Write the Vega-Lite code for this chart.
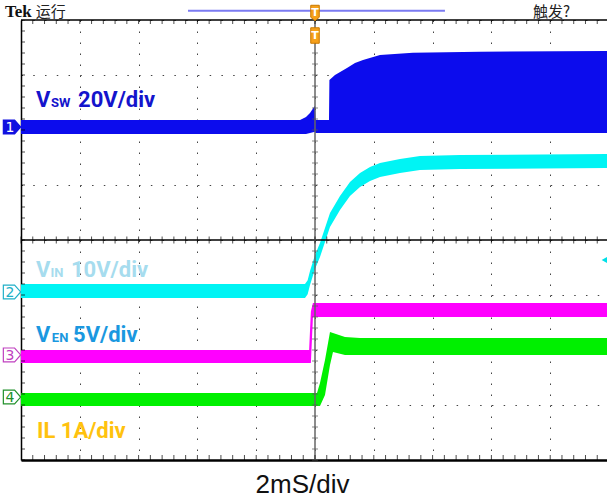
{
  "$schema": "https://vega.github.io/schema/vega-lite/v6.json",
  "autosize": {"type": "none"},
  "padding": {"left": 21, "top": 20, "right": 0, "bottom": 37},
  "width": 588,
  "height": 440,
  "background": "white",
  "config": {"view": {"stroke": null}},
  "datasets": {
    "traces": [
      {"ch": "1", "t": -10, "lo": 1.927, "hi": 2.182},
      {"ch": "1", "t": -0.51, "lo": 1.927, "hi": 2.182},
      {"ch": "1", "t": -0.306, "lo": 1.927, "hi": 2.236},
      {"ch": "1", "t": -0.17, "lo": 1.945, "hi": 2.309},
      {"ch": "1", "t": -0.034, "lo": 1.964, "hi": 2.418},
      {"ch": "1", "t": 0, "lo": 1.964, "hi": 2.436},
      {"ch": "1", "t": 0.02, "lo": 1.945, "hi": 2.182},
      {"ch": "1", "t": 0.476, "lo": 1.945, "hi": 2.182},
      {"ch": "1", "t": 0.49, "lo": 1.945, "hi": 2.909},
      {"ch": "1", "t": 0.68, "lo": 1.945, "hi": 3.0},
      {"ch": "1", "t": 1.088, "lo": 1.945, "hi": 3.127},
      {"ch": "1", "t": 1.36, "lo": 1.945, "hi": 3.218},
      {"ch": "1", "t": 1.633, "lo": 1.945, "hi": 3.273},
      {"ch": "1", "t": 2.21, "lo": 1.945, "hi": 3.364},
      {"ch": "1", "t": 3.33, "lo": 1.945, "hi": 3.405},
      {"ch": "1", "t": 5.61, "lo": 1.945, "hi": 3.424},
      {"ch": "1", "t": 10, "lo": 1.945, "hi": 3.436},
      {"ch": "2", "t": -10, "lo": -1.054, "hi": -0.8},
      {"ch": "2", "t": -0.34, "lo": -1.054, "hi": -0.8},
      {"ch": "2", "t": -0.25, "lo": -0.987, "hi": -0.733},
      {"ch": "2", "t": -0.17, "lo": -0.818, "hi": -0.564},
      {"ch": "2", "t": 0, "lo": -0.527, "hi": -0.273},
      {"ch": "2", "t": 0.17, "lo": -0.309, "hi": -0.055},
      {"ch": "2", "t": 0.34, "lo": -0.036, "hi": 0.218},
      {"ch": "2", "t": 0.51, "lo": 0.237, "hi": 0.491},
      {"ch": "2", "t": 0.85, "lo": 0.546, "hi": 0.8},
      {"ch": "2", "t": 1.19, "lo": 0.8, "hi": 1.054},
      {"ch": "2", "t": 1.531, "lo": 0.964, "hi": 1.218},
      {"ch": "2", "t": 1.871, "lo": 1.073, "hi": 1.327},
      {"ch": "2", "t": 2.211, "lo": 1.146, "hi": 1.4},
      {"ch": "2", "t": 2.891, "lo": 1.218, "hi": 1.472},
      {"ch": "2", "t": 3.571, "lo": 1.273, "hi": 1.527},
      {"ch": "2", "t": 4.932, "lo": 1.291, "hi": 1.545},
      {"ch": "2", "t": 10, "lo": 1.309, "hi": 1.563},
      {"ch": "3", "t": -10, "lo": -2.236, "hi": -2.0},
      {"ch": "3", "t": -0.2, "lo": -2.236, "hi": -2.0},
      {"ch": "3", "t": -0.14, "lo": -2.236, "hi": -1.3},
      {"ch": "3", "t": -0.07, "lo": -1.4, "hi": -1.145},
      {"ch": "3", "t": 10, "lo": -1.4, "hi": -1.145},
      {"ch": "4", "t": -10, "lo": -3.018, "hi": -2.782},
      {"ch": "4", "t": 0.068, "lo": -3.018, "hi": -2.782},
      {"ch": "4", "t": 0.17, "lo": -3.018, "hi": -2.6},
      {"ch": "4", "t": 0.34, "lo": -2.818, "hi": -2.182},
      {"ch": "4", "t": 0.51, "lo": -2.273, "hi": -1.673},
      {"ch": "4", "t": 0.612, "lo": -2.036, "hi": -1.691},
      {"ch": "4", "t": 1.02, "lo": -2.091, "hi": -1.764},
      {"ch": "4", "t": 1.531, "lo": -2.091, "hi": -1.782},
      {"ch": "4", "t": 10, "lo": -2.091, "hi": -1.782}
    ],
    "xt": [
      {"t": -10}, {"t": -9.6}, {"t": -9.2}, {"t": -8.8}, {"t": -8.4}, {"t": -8}, {"t": -7.6}, {"t": -7.2}, {"t": -6.8}, {"t": -6.4},
      {"t": -6}, {"t": -5.6}, {"t": -5.2}, {"t": -4.8}, {"t": -4.4}, {"t": -4}, {"t": -3.6}, {"t": -3.2}, {"t": -2.8}, {"t": -2.4},
      {"t": -2}, {"t": -1.6}, {"t": -1.2}, {"t": -0.8}, {"t": -0.4}, {"t": 0}, {"t": 0.4}, {"t": 0.8}, {"t": 1.2}, {"t": 1.6},
      {"t": 2}, {"t": 2.4}, {"t": 2.8}, {"t": 3.2}, {"t": 3.6}, {"t": 4}, {"t": 4.4}, {"t": 4.8}, {"t": 5.2}, {"t": 5.6},
      {"t": 6}, {"t": 6.4}, {"t": 6.8}, {"t": 7.2}, {"t": 7.6}, {"t": 8}, {"t": 8.4}, {"t": 8.8}, {"t": 9.2}, {"t": 9.6}, {"t": 10}
    ],
    "yt": [
      {"v": -4}, {"v": -3.8}, {"v": -3.6}, {"v": -3.4}, {"v": -3.2}, {"v": -3}, {"v": -2.8}, {"v": -2.6}, {"v": -2.4}, {"v": -2.2},
      {"v": -2}, {"v": -1.8}, {"v": -1.6}, {"v": -1.4}, {"v": -1.2}, {"v": -1}, {"v": -0.8}, {"v": -0.6}, {"v": -0.4}, {"v": -0.2},
      {"v": 0}, {"v": 0.2}, {"v": 0.4}, {"v": 0.6}, {"v": 0.8}, {"v": 1}, {"v": 1.2}, {"v": 1.4}, {"v": 1.6}, {"v": 1.8},
      {"v": 2}, {"v": 2.2}, {"v": 2.4}, {"v": 2.6}, {"v": 2.8}, {"v": 3}, {"v": 3.2}, {"v": 3.4}, {"v": 3.6}, {"v": 3.8}, {"v": 4}
    ],
    "bigLabels": [
      {"k": "sw", "text": "V", "t": -9.49, "v": 2.418},
      {"k": "sw", "text": "20V/div", "t": -8.06, "v": 2.418},
      {"k": "in", "text": "V", "t": -9.49, "v": -0.673},
      {"k": "in", "text": "10V/div", "t": -8.3, "v": -0.673},
      {"k": "en", "text": "V", "t": -9.49, "v": -1.855},
      {"k": "en", "text": "5V/div", "t": -8.23, "v": -1.855},
      {"k": "il", "text": "IL 1A/div", "t": -9.456, "v": -3.6}
    ],
    "smallLabels": [
      {"k": "sw", "text": "SW", "t": -8.98, "v": 2.418},
      {"k": "in", "text": "IN", "t": -9.0, "v": -0.673},
      {"k": "en", "text": "EN", "t": -8.95, "v": -1.855}
    ],
    "chMarks": [
      {"ch": "1", "num": "1", "t": -10.306, "v": 2.055},
      {"ch": "2", "num": "2", "t": -10.306, "v": -0.945},
      {"ch": "3", "num": "3", "t": -10.306, "v": -2.09},
      {"ch": "4", "num": "4", "t": -10.306, "v": -2.855}
    ],
    "trig": [
      {"k": "top", "t": 0, "v": 4.127},
      {"k": "box", "t": 0, "v": 3.718}
    ]
  },
  "resolve": {
    "axis": {"x": "independent", "y": "independent"},
    "scale": {"color": "independent", "fill": "independent", "stroke": "independent", "shape": "independent"}
  },
  "layer": [
    {
      "data": {"name": "traces"},
      "mark": {"type": "area", "opacity": 1},
      "encoding": {
        "x": {
          "field": "t", "type": "quantitative",
          "scale": {"domain": [-10, 10], "nice": false, "zero": false},
          "axis": {
            "values": [-10, -8, -6, -4, -2, 0, 2, 4, 6, 8, 10],
            "grid": true, "gridColor": "#444", "gridDash": [1.5, 9.5], "gridWidth": 1,
            "domain": true, "domainColor": "#000", "domainWidth": 2.5,
            "ticks": false, "labels": false,
            "title": "2mS/div", "titleX": 281, "titleY": 32, "titleBaseline": "alphabetic",
            "titleAlign": "center", "titleFont": "Liberation Sans", "titleFontWeight": "normal",
            "titleFontSize": 26, "titleColor": "#111"
          }
        },
        "y": {
          "field": "hi", "type": "quantitative", "stack": null,
          "scale": {"domain": [-4, 4], "nice": false, "zero": false},
          "axis": {
            "values": [-4, -3, -2, -1, 0, 1, 2, 3, 4],
            "grid": true, "gridColor": "#444", "gridDash": [1.5, 10.26], "gridWidth": 1,
            "domain": true, "domainColor": "#000", "domainWidth": 1.5,
            "ticks": false, "labels": false, "title": null
          }
        },
        "y2": {"field": "lo"},
        "color": {
          "field": "ch", "type": "nominal", "legend": null,
          "scale": {"domain": ["1", "2", "3", "4"], "range": ["#0c0ced", "#00f4f4", "#ff00ff", "#00f000"]}
        }
      }
    },
    {
      "data": {"values": [{"v": 4}, {"v": 0}]},
      "mark": {"type": "rule", "color": "#000", "strokeWidth": 1.5},
      "encoding": {"y": {"field": "v", "type": "quantitative", "axis": null}}
    },
    {
      "data": {"values": [{"t": 0}]},
      "mark": {"type": "rule", "color": "#666", "strokeWidth": 1.5},
      "encoding": {"x": {"field": "t", "type": "quantitative", "axis": null}}
    },
    {
      "data": {"name": "xt"},
      "mark": {"type": "tick", "orient": "vertical", "color": "#000", "size": 7, "thickness": 1},
      "encoding": {
        "x": {"field": "t", "type": "quantitative", "axis": null},
        "y": {"datum": 0, "type": "quantitative", "axis": null}
      }
    },
    {
      "data": {"name": "xt"},
      "mark": {"type": "tick", "orient": "vertical", "color": "#000", "size": 8, "thickness": 1, "clip": true},
      "encoding": {
        "x": {"field": "t", "type": "quantitative", "axis": null},
        "y": {"datum": 4, "type": "quantitative", "axis": null}
      }
    },
    {
      "data": {"name": "xt"},
      "mark": {"type": "tick", "orient": "vertical", "color": "#000", "size": 10, "thickness": 1, "clip": true},
      "encoding": {
        "x": {"field": "t", "type": "quantitative", "axis": null},
        "y": {"datum": -4, "type": "quantitative", "axis": null}
      }
    },
    {
      "data": {"name": "yt"},
      "mark": {"type": "tick", "orient": "horizontal", "color": "#555", "size": 6, "thickness": 1},
      "encoding": {
        "y": {"field": "v", "type": "quantitative", "axis": null},
        "x": {"datum": 0, "type": "quantitative", "axis": null}
      }
    },
    {
      "data": {"name": "yt"},
      "mark": {"type": "tick", "orient": "horizontal", "color": "#000", "size": 8, "thickness": 1, "clip": true},
      "encoding": {
        "y": {"field": "v", "type": "quantitative", "axis": null},
        "x": {"datum": -10, "type": "quantitative", "axis": null}
      }
    },
    {
      "data": {"name": "bigLabels"},
      "mark": {"type": "text", "align": "left", "baseline": "alphabetic", "font": "Roboto", "fontWeight": "bold", "fontSize": 22},
      "encoding": {
        "x": {"field": "t", "type": "quantitative", "axis": null},
        "y": {"field": "v", "type": "quantitative", "axis": null},
        "text": {"field": "text"},
        "color": {"field": "k", "type": "nominal", "legend": null,
          "scale": {"domain": ["sw", "in", "en", "il"], "range": ["#1414cc", "#a6dcee", "#1a98e0", "#ffc20e"]}}
      }
    },
    {
      "data": {"name": "smallLabels"},
      "mark": {"type": "text", "align": "left", "baseline": "alphabetic", "font": "Roboto", "fontWeight": "bold", "fontSize": 13},
      "encoding": {
        "x": {"field": "t", "type": "quantitative", "axis": null},
        "y": {"field": "v", "type": "quantitative", "axis": null},
        "text": {"field": "text"},
        "color": {"field": "k", "type": "nominal", "legend": null,
          "scale": {"domain": ["sw", "in", "en", "il"], "range": ["#1414cc", "#a6dcee", "#1a98e0", "#ffc20e"]}}
      }
    },
    {
      "data": {"name": "chMarks"},
      "mark": {"type": "point", "shape": "M -1 -0.8 L 0.3 -0.8 L 1 0 L 0.3 0.8 L -1 0.8 Z", "size": 300, "filled": true, "strokeWidth": 1.2, "opacity": 1},
      "encoding": {
        "x": {"field": "t", "type": "quantitative", "axis": null},
        "y": {"field": "v", "type": "quantitative", "axis": null},
        "fill": {"field": "ch", "type": "nominal", "legend": null,
          "scale": {"domain": ["1", "2", "3", "4"], "range": ["#1010e0", "#ffffff", "#ffffff", "#ffffff"]}},
        "stroke": {"field": "ch", "type": "nominal", "legend": null,
          "scale": {"domain": ["1", "2", "3", "4"], "range": ["#1010e0", "#20b0c8", "#c040c0", "#20902a"]}}
      }
    },
    {
      "data": {"name": "chMarks"},
      "mark": {"type": "text", "align": "center", "baseline": "middle", "font": "DejaVu Sans", "fontSize": 14, "dx": -2, "dy": 1},
      "encoding": {
        "x": {"field": "t", "type": "quantitative", "axis": null},
        "y": {"field": "v", "type": "quantitative", "axis": null},
        "text": {"field": "num"},
        "color": {"field": "ch", "type": "nominal", "legend": null,
          "scale": {"domain": ["1", "2", "3", "4"], "range": ["#ffffff", "#20b0c8", "#c040c0", "#20902a"]}}
      }
    },
    {
      "data": {"values": [{"t1": -4.32, "t2": 4.42, "v": 4.169}]},
      "mark": {"type": "rule", "color": "#7b7bf2", "strokeWidth": 2},
      "encoding": {
        "x": {"field": "t1", "type": "quantitative", "axis": null},
        "x2": {"field": "t2"},
        "y": {"field": "v", "type": "quantitative", "axis": null}
      }
    },
    {
      "data": {"name": "trig"},
      "mark": {"type": "point", "filled": true, "size": 240, "color": "#f6a01a", "stroke": "#c87800", "strokeWidth": 1, "opacity": 1},
      "encoding": {
        "x": {"field": "t", "type": "quantitative", "axis": null},
        "y": {"field": "v", "type": "quantitative", "axis": null},
        "shape": {"field": "k", "type": "nominal", "legend": null,
          "scale": {"domain": ["top", "box"], "range": ["M -0.55 -1 L 0.55 -1 L 0.55 0.55 L 0 1 L -0.55 0.55 Z", "M -0.55 -1 L 0.55 -1 L 0.55 1 L -0.55 1 Z"]}}
      }
    },
    {
      "data": {"name": "trig"},
      "mark": {"type": "text", "align": "center", "baseline": "middle", "font": "DejaVu Sans", "fontWeight": "bold", "fontSize": 11, "color": "#ffffff"},
      "encoding": {
        "x": {"field": "t", "type": "quantitative", "axis": null},
        "y": {"field": "v", "type": "quantitative", "axis": null},
        "text": {"value": "T"}
      }
    },
    {
      "data": {"values": [{"t": 9.864, "v": -0.364}]},
      "mark": {"type": "point", "shape": "triangle-left", "filled": true, "size": 60, "color": "#00e0e8", "opacity": 1},
      "encoding": {
        "x": {"field": "t", "type": "quantitative", "axis": null},
        "y": {"field": "v", "type": "quantitative", "axis": null}
      }
    },
    {
      "data": {"values": [{"text": "Tek", "t": -10.544, "v": 4.055}]},
      "mark": {"type": "text", "align": "left", "baseline": "alphabetic", "font": "Liberation Serif", "fontWeight": "bold", "fontSize": 17, "color": "#111"},
      "encoding": {
        "x": {"field": "t", "type": "quantitative", "axis": null},
        "y": {"field": "v", "type": "quantitative", "axis": null},
        "text": {"field": "text"}
      }
    },
    {
      "data": {"values": [{"text": "运行", "t": -9.5, "v": 4.055}, {"text": "触发?", "t": 7.415, "v": 4.055}]},
      "mark": {"type": "text", "align": "left", "baseline": "alphabetic", "font": "Noto Sans CJK SC", "fontSize": 15, "color": "#222"},
      "encoding": {
        "x": {"field": "t", "type": "quantitative", "axis": null},
        "y": {"field": "v", "type": "quantitative", "axis": null},
        "text": {"field": "text"}
      }
    }
  ]
}
